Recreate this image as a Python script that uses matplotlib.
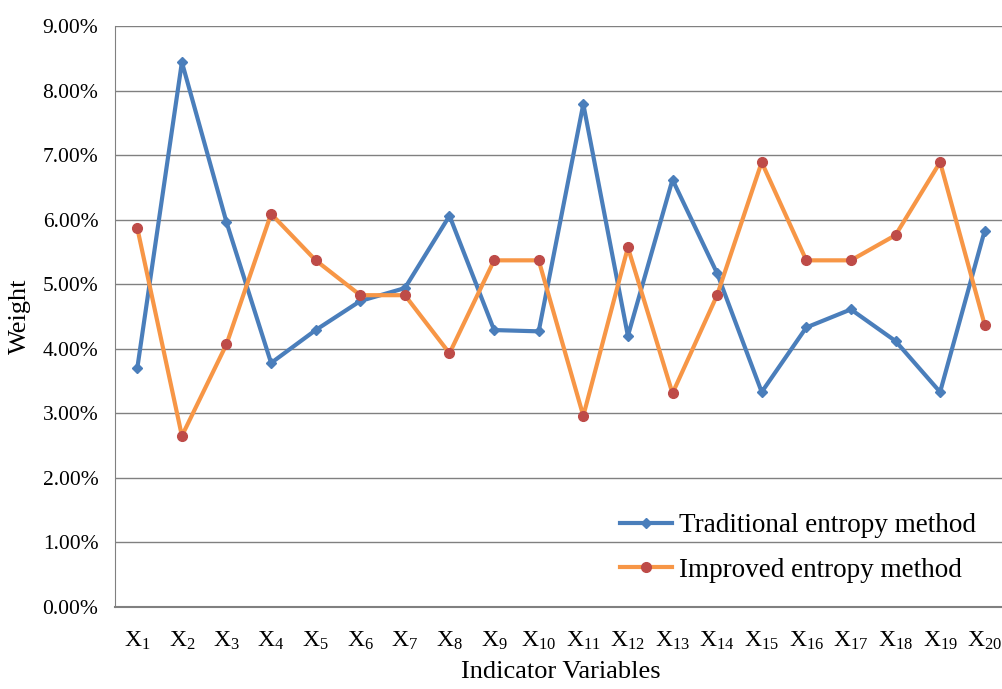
import matplotlib
matplotlib.use("Agg")
import matplotlib.pyplot as plt
from matplotlib.ticker import FuncFormatter

plt.rcParams['font.family'] = ['Liberation Serif', 'DejaVu Serif']
plt.rcParams['mathtext.fontset'] = 'custom'
plt.rcParams['mathtext.rm'] = 'Liberation Serif'
plt.rcParams['mathtext.it'] = 'Liberation Serif'

categories = [f"X$_{{{i}}}$" for i in range(1, 21)]
traditional = [3.70, 8.44, 5.96, 3.78, 4.29, 4.74, 4.94, 6.06, 4.29, 4.27,
               7.79, 4.20, 6.62, 5.17, 3.33, 4.33, 4.61, 4.12, 3.33, 5.83]
improved = [5.87, 2.65, 4.07, 6.09, 5.37, 4.83, 4.83, 3.93, 5.37, 5.37,
            2.96, 5.57, 3.31, 4.83, 6.89, 5.37, 5.37, 5.76, 6.89, 4.37]
yticks = [0, 1, 2, 3, 4, 5, 6, 7, 8, 9]

W, H = 1003, 689
fig = plt.figure(figsize=(W/100, H/100), dpi=100)
left, right, top, bottom = 115, 1007, 26, 607
ax = fig.add_axes([left/W, 1-bottom/H, (right-left)/W, (bottom-top)/H])

x = list(range(1, 21))
ax.plot(x, traditional, color='#4A7EBB', lw=3, marker='D', ms=5,
        markerfacecolor='#4A7EBB', markeredgecolor='#4A7EBB',
        label='Traditional entropy method', zorder=3)
ax.plot(x, improved, color='#F79646', lw=3, marker='o', ms=7,
        markerfacecolor='#BE4B48', markeredgecolor='#BE4B48',
        label='Improved entropy method', zorder=3)

ax.set_xlim(0.5, 20.5)
ax.set_ylim(0, 9)
ax.set_yticks(yticks)
ax.yaxis.set_major_formatter(FuncFormatter(lambda v, p: f"{v:.2f}%"))
ax.set_xticks(x)
ax.set_xticklabels(categories)
ax.tick_params(axis='both', length=0, colors='black')
ax.tick_params(axis='x', pad=16, labelsize=17)
ax.tick_params(axis='y', pad=12, labelsize=15.5)
ax.grid(axis='y', color='#808080', lw=1)
ax.set_axisbelow(True)
for s in ['top', 'right']:
    ax.spines[s].set_visible(False)
ax.spines['left'].set_color('#808080')
ax.spines['bottom'].set_color('#808080')
ax.spines['bottom'].set_linewidth(1.5)

ax.set_xlabel('Indicator Variables', fontsize=19, labelpad=7)
ax.set_ylabel('Weight', fontsize=19, labelpad=8)

leg = ax.legend(loc='lower left', bbox_to_anchor=((596-left)/(right-left), 0.0),
                frameon=False, fontsize=19.5, handlelength=1.9, labelspacing=0.72,
                handletextpad=0.25)

fig.savefig('out.png', dpi=100)
